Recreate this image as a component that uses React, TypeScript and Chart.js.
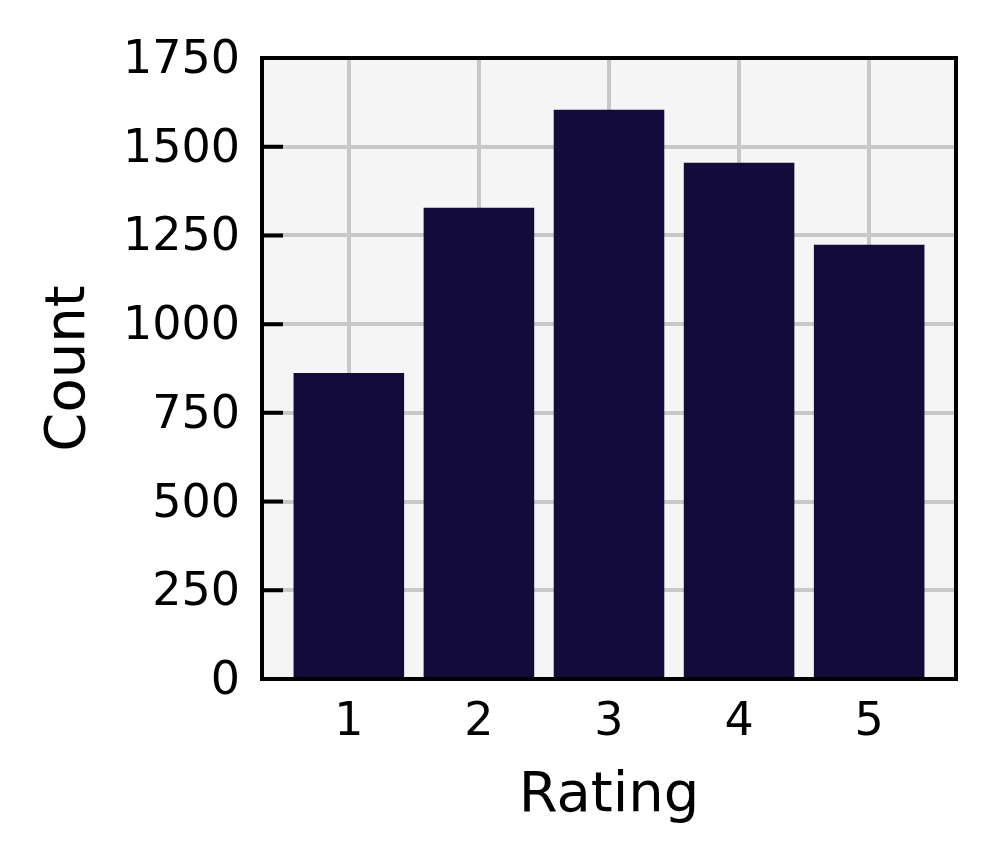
import React, { useEffect, useRef } from "react";
import { Chart, registerables } from "chart.js";

Chart.register(...registerables);

const ratings = [1, 2, 3, 4, 5];
const counts = [862, 1328, 1604, 1455, 1224];
const yTicks = [0, 250, 500, 750, 1000, 1250, 1500, 1750];

const FONT = "'DejaVu Sans', sans-serif";
const BAR = "#130c3b";

const framePlugin = {
  id: "frame",
  beforeDraw(chart: any) {
    const { ctx, chartArea: a } = chart;
    ctx.save();
    ctx.fillStyle = "#f5f5f5";
    ctx.fillRect(a.left, a.top, a.right - a.left, a.bottom - a.top);
    ctx.restore();
  },
  afterDraw(chart: any) {
    const { ctx, chartArea: a, scales } = chart;
    ctx.save();
    ctx.strokeStyle = "#000";
    ctx.lineWidth = 4;
    ctx.beginPath();
    for (const v of yTicks) {
      const y = scales.y.getPixelForValue(v);
      ctx.moveTo(a.left, y);
      ctx.lineTo(a.left + 21, y);
    }
    ctx.stroke();
    ctx.strokeRect(a.left, a.top, a.right - a.left, a.bottom - a.top);
    ctx.restore();
  },
};

export default function App() {
  const ref = useRef<HTMLCanvasElement>(null);
  useEffect(() => {
    const chart = new Chart(ref.current!, {
      type: "bar",
      data: {
        datasets: [
          {
            data: ratings.map((r, i) => ({ x: r, y: counts[i] })),
            backgroundColor: BAR,
            borderWidth: 0,
            barPercentage: 0.85,
            categoryPercentage: 1,
          },
        ],
      },
      options: {
        animation: false,
        responsive: false,
        devicePixelRatio: 1,
        layout: { padding: { left: 0, right: 41, top: 58, bottom: 0 } },
        plugins: { legend: { display: false }, tooltip: { enabled: false } },
        scales: {
          x: {
            type: "linear",
            offset: false,
            min: 0.3325,
            max: 5.6675,
            afterBuildTicks: (s: any) => {
              s.ticks = ratings.map((v) => ({ value: v }));
            },
            afterFit: (s: any) => {
              s.height = 864 - 679;
            },
            grid: { color: "#c8c8c8", lineWidth: 4, drawTicks: false, offset: false },
            border: { display: false },
            ticks: {
              padding: 16,
              color: "#000",
              font: { family: FONT, size: 46 },
              callback: (v: any) => String(v),
            },
            title: {
              display: true,
              text: "Rating",
              color: "#000",
              font: { family: FONT, size: 56 },
              padding: { top: 0, bottom: 34 },
            },
          },
          y: {
            min: 0,
            max: 1750,
            afterBuildTicks: (s: any) => {
              s.ticks = yTicks.map((v) => ({ value: v }));
            },
            afterFit: (s: any) => {
              s.width = 262;
            },
            grid: { color: "#c8c8c8", lineWidth: 4, drawTicks: false },
            border: { display: false },
            ticks: {
              padding: 22,
              labelOffset: 3,
              color: "#000",
              font: { family: FONT, size: 46 },
              callback: (v: any) => String(v),
            },
            title: {
              display: true,
              text: "Count",
              color: "#000",
              font: { family: FONT, size: 56 },
              padding: { top: 36, bottom: 0 },
            },
          },
        },
      },
      plugins: [framePlugin],
    });
    return () => chart.destroy();
  }, []);
  return (
    <div style={{ position: "fixed", left: 0, top: 0, width: 997, height: 864, background: "#fff" }}>
      <canvas ref={ref} width={997} height={864} style={{ width: 997, height: 864 }} />
    </div>
  );
}
